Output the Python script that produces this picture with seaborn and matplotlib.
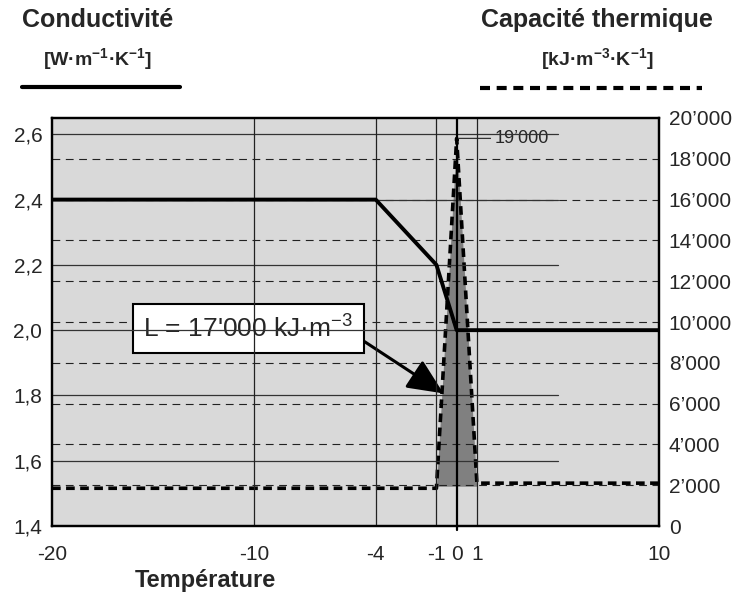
import matplotlib
matplotlib.use("Agg")
import matplotlib.pyplot as plt
import seaborn as sns
from matplotlib.lines import Line2D
from matplotlib.ticker import FuncFormatter

# Data
temp_cond = [-20, -4, -1, 0, 10]
conductivity = [2.4, 2.4, 2.2, 2.0, 2.0]

temp_cap = [-20, -1, 0, 1, 10]
capacity = [1850, 1850, 19000, 2100, 2100]

peak_temp = [-1, 0, 1]
peak_cap = [1900, 19000, 1900]

x_ticks = [-20, -10, -4, -1, 0, 1, 10]
cond_ticks = [1.4, 1.6, 1.8, 2.0, 2.2, 2.4, 2.6]
cap_ticks = list(range(0, 20001, 2000))

sns.set_style("white")
plt.rcParams['font.family'] = ['Liberation Sans', 'DejaVu Sans']
plt.rcParams['mathtext.fontset'] = 'custom'
plt.rcParams['mathtext.rm'] = 'Liberation Sans'
plt.rcParams['mathtext.bf'] = 'Liberation Sans:bold'

fig = plt.figure(figsize=(7.33, 5.96), dpi=100)
ax2 = fig.add_axes([52/733, 70/596, 607/733, 408/596])
ax = ax2.twinx()
# conductivity axis on top, capacity axis (with gray background) underneath
ax2.yaxis.tick_right()
ax.yaxis.tick_left()
ax.set_zorder(ax2.get_zorder() + 1)
ax.patch.set_visible(False)
ax2.set_facecolor('#d9d9d9')

# capacity (right axis)
ax2.fill_between(peak_temp, peak_cap, 1950, color='#808080', lw=0, zorder=1)
for v in cap_ticks[1:-1]:
    ax2.axhline(v, color='#222222', lw=0.8, ls=(0, (7, 5)), zorder=2)
sns.lineplot(x=temp_cap, y=capacity, ax=ax2, color='black', lw=2.6,
             sort=False, linestyle=(0, (2.4, 1.5)), zorder=4)
ax2.set_ylim(0, 20000)
ax2.set_yticks(cap_ticks)
ax2.yaxis.set_major_formatter(FuncFormatter(lambda v, p: f"{int(v):,}".replace(",", "\u2019")))
ax2.set_ylabel('')

# conductivity (left axis)
for v in cond_ticks[1:]:
    ax.plot([-20, 5], [v, v], color='#333333', lw=0.9, zorder=1)
for t in [-10, -4, -1, 1]:
    ax.axvline(t, color='#222222', lw=0.9, zorder=1)
ax.axvline(0, ymin=-0.01, color='black', lw=1.6, zorder=2, clip_on=False)
sns.lineplot(x=temp_cond, y=conductivity, ax=ax, color='black', lw=2.8,
             sort=False, zorder=5)
ax.set_ylim(1.4, 2.65)
ax.set_yticks(cond_ticks)
ax.yaxis.set_major_formatter(FuncFormatter(lambda v, p: f"{v:.1f}".replace(".", ",")))
ax.set_ylabel('')

ax.set_xlim(-20, 10)
ax2.set_xticks(x_ticks)
ax2.set_xticklabels([str(t) for t in x_ticks])

for a in (ax, ax2):
    a.tick_params(length=0, labelsize=15)
    for s in a.spines.values():
        s.set_color('black')
        s.set_linewidth(1.6)
ax.tick_params(axis='y', pad=7)
ax2.tick_params(axis='y', pad=7)
ax2.tick_params(axis='x', pad=14)

ax2.set_xlabel('Température', fontsize=17, fontweight='bold')
ax2.xaxis.set_label_coords((205 - 52) / 607, -0.105)

# 19'000 label
ax2.annotate("19\u2019000", xy=(0.1, 19000), xytext=(1.9, 19000),
             fontsize=13, va='center', ha='left',
             bbox=dict(boxstyle='square,pad=0.25', fc='#d9d9d9', ec='none'),
             arrowprops=dict(arrowstyle='-', color='#333333', lw=0.9,
                             shrinkA=0, shrinkB=0, relpos=(0, 0.5)),
             zorder=6)

# latent heat box with arrow
ax2.annotate(r"L = 17'000 kJ·m$^{-3}$", xy=(-0.65, 6500), xytext=(-10.3, 9700),
             fontsize=19, ha='center', va='center',
             bbox=dict(boxstyle='square,pad=0.4', fc='white', ec='black', lw=1.5),
             arrowprops=dict(arrowstyle='-|>,head_length=1.1,head_width=0.5',
                             color='black', lw=2.2, mutation_scale=20,
                             relpos=(1.0, 0.28), shrinkA=0, shrinkB=0),
             zorder=7)

# header legend
fig.text(22/733, 1 - 20/596, "Conductivité", fontsize=18, fontweight='bold', va='center', ha='left')
fig.text(98/733, 1 - 60/596, r"[W·m$^{\mathbf{-1}}$·K$^{\mathbf{-1}}$]", fontsize=14,
         fontweight='bold', va='center', ha='center')
fig.add_artist(Line2D([22/733, 180/733], [1 - 87/596] * 2, color='black', lw=3))

fig.text(597/733, 1 - 20/596, "Capacité thermique", fontsize=18, fontweight='bold', va='center', ha='center')
fig.text(597/733, 1 - 60/596, r"[kJ·m$^{\mathbf{-3}}$·K$^{\mathbf{-1}}$]", fontsize=14,
         fontweight='bold', va='center', ha='center')
fig.add_artist(Line2D([480/733, 702/733], [1 - 88/596] * 2, color='black', lw=3,
                      linestyle=(0, (2.4, 1.6))))

fig.savefig('out.png', dpi=100)
